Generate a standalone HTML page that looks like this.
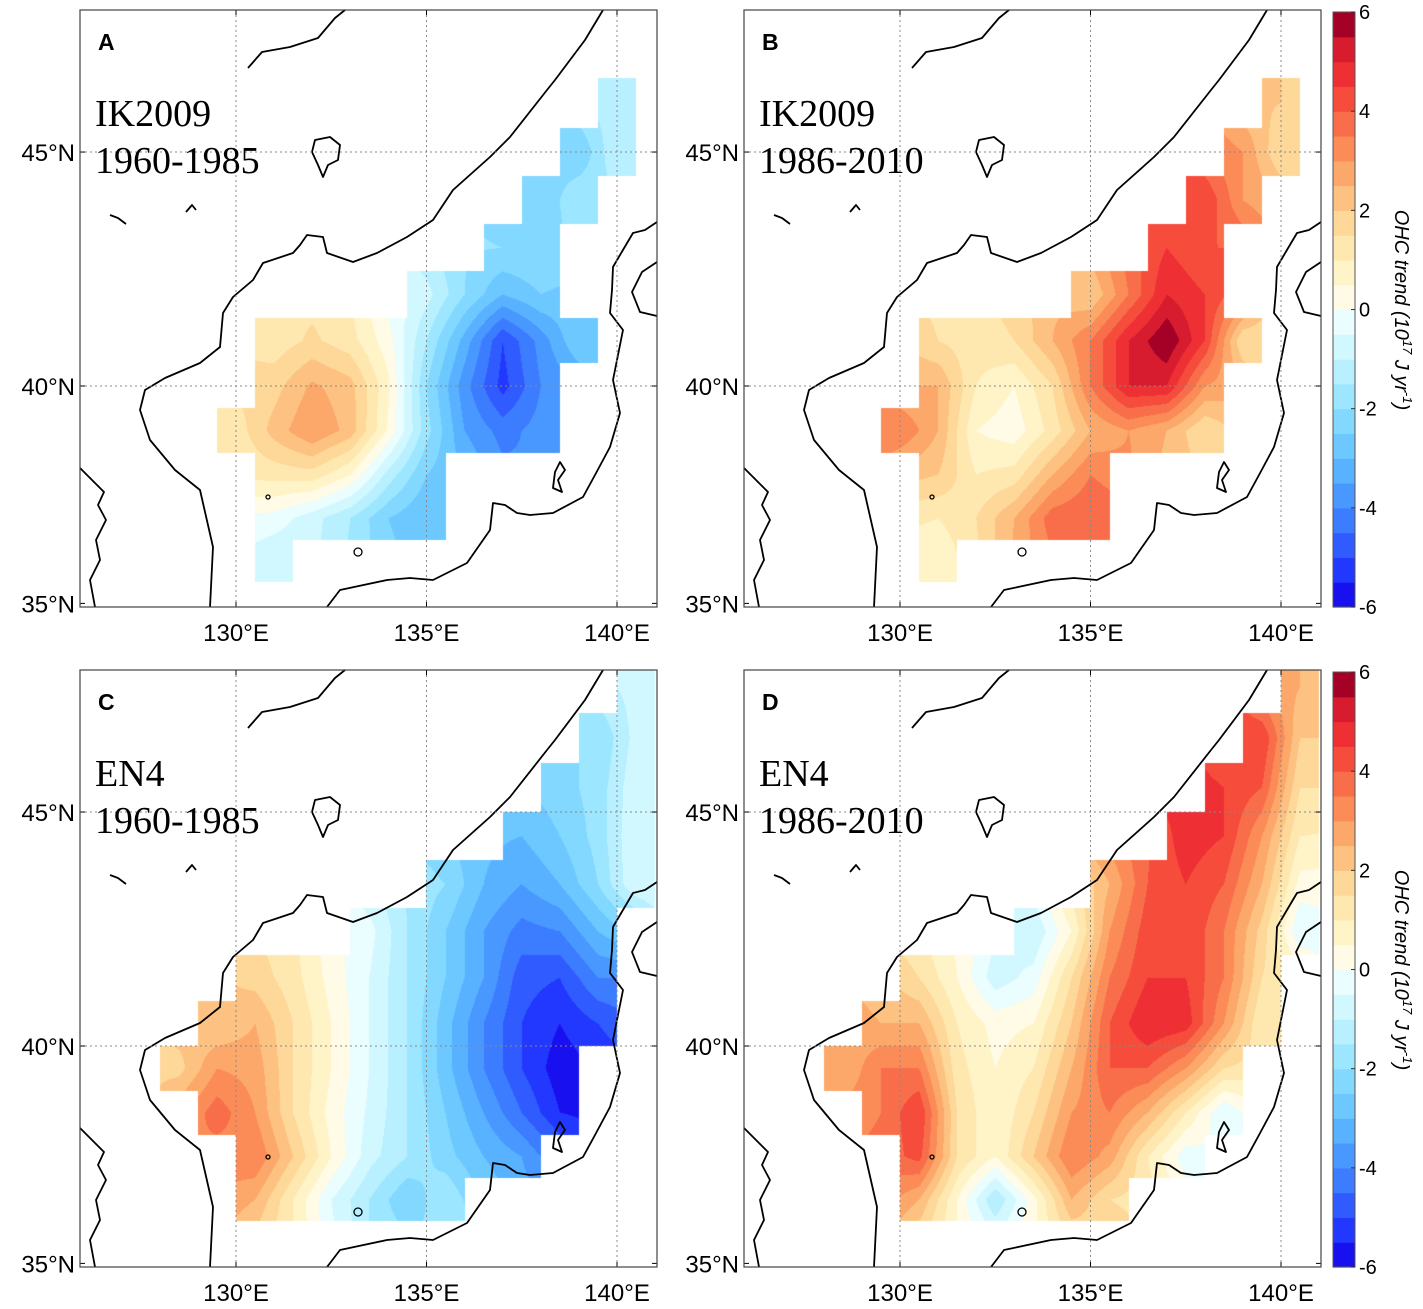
<!DOCTYPE html>
<html><head><meta charset="utf-8">
<style>
html,body{margin:0;padding:0;background:#fff;}
#wrap{position:relative;width:1423px;height:1309px;overflow:hidden;background:#fff;}
canvas,svg{position:absolute;left:0;top:0;}
</style></head>
<body>
<div id="wrap">
<canvas id="cv" width="1423" height="1309"></canvas>
<svg id="sv" width="1423" height="1309" xmlns="http://www.w3.org/2000/svg"></svg>
</div>
<script>
// ---- data ----
const levelColors = ["#1810ee","#2238ff","#305cff","#3c7cff","#4898ff","#58b2ff","#6cc8ff","#82d8ff","#9ce6ff","#b8f0ff","#d2f8ff","#eafdff",
 "#fffbe6","#fff3c8","#fee8b0","#fdd898","#fdc282","#fca86a","#fb8c58","#f96e4a","#f54c3c","#ee3034","#d81c30","#a50026"];
const cbTicks = [6,4,2,0,-2,-4,-6];
const lonTicks = [130,135,140];
const latTicks = [45,40,35];
// rows: [lat, first lon, values...]
const ik1960 = [
 [46,140,[-1.2]],
 [45,139,[-2.5,-1.0]],
 [44,138,[-2.5,-1.5]],
 [43,137,[-2.0,-2.0]],
 [42,135,[-0.8,-2.0,-3.0,-2.5]],
 [41,131,[1.2,1.6,1.2,0.2,-1.5,-3.2,-5.0,-3.8,-2.5]],
 [40,131,[1.8,2.6,2.2,0.6,-2.0,-3.8,-5.2,-4.0]],
 [39,130,[1.2,2.2,3.0,2.3,0.4,-1.8,-3.5,-4.2,-3.8]],
 [38,131,[1.2,1.3,0.5,-1.2,-2.5]],
 [37,131,[-0.2,-0.8,-1.5,-2.5,-3.0]],
 [36,131,[-1.0]]
];
const ik1986 = [
 [46,140,[2.0]],
 [45,139,[3.0,1.5]],
 [44,138,[4.5,3.0]],
 [43,137,[4.5,4.0]],
 [42,135,[2.0,3.5,5.0,4.5]],
 [41,131,[1.5,1.2,1.5,2.5,3.5,5.0,6.0,4.5,1.5]],
 [40,131,[2.5,1.0,0.5,1.5,3.5,5.0,5.0,3.0]],
 [39,130,[3.5,2.5,0.5,0.2,1.2,2.5,3.0,2.5,1.5]],
 [38,131,[2.0,1.0,1.2,2.5,3.5]],
 [37,131,[1.0,1.5,2.5,3.8,4.0]],
 [36,131,[0.5]]
];
const en1960 = [
 [47.5,140.5,[-0.8]],
 [46.5,139.5,[-2.0,-0.8]],
 [45.5,138.5,[-2.2,-1.8,-0.6]],
 [44.5,137.5,[-3.0,-2.5,-1.8,-0.5]],
 [43.5,135.5,[-2.0,-3.0,-3.5,-3.0,-2.0,-0.5]],
 [42.5,133.5,[-0.3,-1.5,-2.5,-3.5,-4.2,-4.0,-3.0]],
 [41.5,130.5,[1.8,1.2,0.3,-0.5,-1.5,-2.5,-3.5,-4.8,-5.0,-4.0]],
 [40.5,129.5,[2.0,2.5,1.5,0.5,-0.5,-1.5,-2.8,-4.0,-5.0,-5.5,-5.0]],
 [39.5,128.5,[1.8,3.0,2.8,1.5,0.5,-0.5,-1.5,-2.8,-4.0,-5.0,-5.8]],
 [38.5,129.5,[3.8,3.0,1.5,0.3,-0.6,-1.5,-2.5,-3.5,-4.5,-5.5]],
 [37.5,130.5,[3.5,2.0,0.5,-0.8,-1.5,-2.3,-3.0,-3.5]],
 [36.5,130.5,[2.5,1.0,-0.5,-1.5,-2.5,-1.5]]
];
const en1986 = [
 [47.5,140.5,[2.5]],
 [46.5,139.5,[4.5,2.0]],
 [45.5,138.5,[4.5,4.0,1.5]],
 [44.5,137.5,[4.8,4.5,3.0,1.0]],
 [43.5,135.5,[2.5,4.0,4.5,4.0,2.5,0.3]],
 [42.5,133.5,[-1.0,0.5,3.0,4.3,4.5,3.5,1.8,-0.5]],
 [41.5,130.5,[1.5,0.5,-0.8,-0.3,1.5,3.5,4.5,4.5,3.5,1.5]],
 [40.5,129.5,[2.5,2.5,1.0,0.3,0.5,2.0,4.0,5.0,4.8,3.0,1.0]],
 [39.5,128.5,[2.5,3.5,3.5,1.2,0.5,1.0,2.5,4.0,4.0,3.0,1.5]],
 [38.5,129.5,[3.5,4.5,1.5,0.5,1.5,3.0,3.5,2.5,1.0,-0.5]],
 [37.5,130.5,[4.2,1.5,0.5,2.0,3.5,2.8,1.0,-0.3]],
 [36.5,130.5,[2.5,0.5,-1.5,0.3,2.5,1.5]]
];

// ---- geometry ----
const S = 1975;
function merc(lat){return Math.log(Math.tan(Math.PI/4+lat*Math.PI/360));}
const M40 = merc(40);
function yOfLat(lat){return 386 - S*(merc(lat)-M40);}
function latOfY(y){const m=M40+(386-y)/S;return (2*Math.atan(Math.exp(m))-Math.PI/2)*180/Math.PI;}
function xOfLon(lon){return 236 + (lon-130)*38.1;}
function lonOfX(x){return 130 + (x-236)/38.1;}
const FX0=80, FX1=657, FY0=10, FY1=607;

const panels = [
 {id:"a", letter:"A", l1:"IK2009", l2:"1960-1985", rows:ik1960, off:0, ox:0, oy:0},
 {id:"b", letter:"B", l1:"IK2009", l2:"1986-2010", rows:ik1986, off:0, ox:664, oy:0},
 {id:"c", letter:"C", l1:"EN4", l2:"1960-1985", rows:en1960, off:0.5, ox:0, oy:660},
 {id:"d", letter:"D", l1:"EN4", l2:"1986-2010", rows:en1986, off:0.5, ox:664, oy:660}
];

function key(a,b){return a.toFixed(1)+"_"+b.toFixed(1);}
const ctx = document.getElementById("cv").getContext("2d");
const rgb = levelColors.map(h=>[parseInt(h.substr(1,2),16),parseInt(h.substr(3,2),16),parseInt(h.substr(5,2),16)]);

panels.forEach(p=>{
  const data = new Map();
  p.rows.forEach(r=>{r[2].forEach((v,i)=>data.set(key(r[0],r[1]+i),v));});
  const ext = new Map(data);
  data.forEach((v,k)=>{
    const [la,lo]=k.split("_").map(Number);
    for(let dj=-1;dj<=1;dj++)for(let di=-1;di<=1;di++){
      const k2=key(la+dj,lo+di);
      if(data.has(k2)||ext.has(k2))continue;
      let s=0,n=0;
      for(let a=-1;a<=1;a++)for(let b=-1;b<=1;b++){const k3=key(la+dj+a,lo+di+b);if(data.has(k3)){s+=data.get(k3);n++;}}
      ext.set(k2,s/n);
    }
  });
  const W=FX1-FX0, H=FY1-FY0;
  const img = ctx.createImageData(W,H);
  const off=p.off;
  for(let py=0;py<H;py++){
    const lat=latOfY(FY0+py+0.5);
    const cLat=Math.round(lat-off)+off;
    const j0=Math.floor(lat-off)+off, fy=lat-j0;
    for(let px=0;px<W;px++){
      const lon=lonOfX(FX0+px+0.5);
      const cLon=Math.round(lon-off)+off;
      if(!data.has(key(cLat,cLon)))continue;
      const cv=data.get(key(cLat,cLon));
      const i0=Math.floor(lon-off)+off, fx=lon-i0;
      const g=(a,b)=>{const k=key(a,b);return ext.has(k)?ext.get(k):cv;};
      const v=(1-fx)*(1-fy)*g(j0,i0)+fx*(1-fy)*g(j0,i0+1)+(1-fx)*fy*g(j0+1,i0)+fx*fy*g(j0+1,i0+1);
      let li=Math.floor((v+6)/0.5); if(li<0)li=0; if(li>23)li=23;
      const c=rgb[li], o=(py*W+px)*4;
      img.data[o]=c[0];img.data[o+1]=c[1];img.data[o+2]=c[2];img.data[o+3]=255;
    }
  }
  ctx.putImageData(img,FX0+p.ox,FY0+p.oy);
});

// ---- SVG overlay ----
const NS="http://www.w3.org/2000/svg";
const sv=document.getElementById("sv");
function el(tag,attrs,parent){const e=document.createElementNS(NS,tag);for(const k in attrs)e.setAttribute(k,attrs[k]);(parent||sv).appendChild(e);return e;}

const coastPaths = [
 "M603,10 L585,40 L555,80 L547,90 L510,137 L490,157 L453,190 L433,220 L407,237 L377,253 L353,262 L327,253 L323,237 L307,235 L300,245 L293,253 L263,263 L253,280 L233,297 L223,313 L220,347 L200,363 L165,378 L145,390 L140,410 L150,440 L175,470 L200,490 L213,547 L210,607",
 "M248,68 L262,52 L290,47 L318,38 L335,18 L345,10",
 "M80,468 L92,480 L104,492 L98,505 L106,520 L96,540 L100,560 L90,580 L95,607",
 "M315,140 L330,137 L340,145 L338,160 L328,165 L323,177 L318,165 L312,152 Z",
 "M657,222 L645,230 L633,233 L620,255 L613,267 L612,290 L610,313 L623,330 L618,355 L613,380 L620,413 L610,447 L595,475 L583,497 L553,513 L530,515 L517,513 L505,505 L493,503 L490,530 L467,563 L433,580 L410,578 L387,580 L340,590 L327,607",
 "M657,262 L642,272 L632,292 L640,312 L657,316",
 "M560,462 L565,470 L558,480 L562,492 L553,488 L555,472 Z",
 "M110,215 L118,218 L126,224 M186,212 L192,205 L196,210"
];

panels.forEach(p=>{
  const g=el("g",{transform:`translate(${p.ox},${p.oy})`});
  
  
  const cg=el("g",{fill:"none",stroke:"#000","stroke-width":"1.8","stroke-linejoin":"round"},g);
  
  
  coastPaths.forEach(d=>el("path",{d:d},cg));
  el("circle",{cx:358,cy:552,r:4,fill:"none",stroke:"#000","stroke-width":"1.3"},cg);
  el("circle",{cx:268,cy:497,r:2,fill:"none",stroke:"#000","stroke-width":"1.3"},cg);
  lonTicks.forEach(lon=>{
    const x=xOfLon(lon);
    const gl=el("line",{x1:x,y1:FY0,x2:x,y2:FY1,stroke:"#888","stroke-width":"1","stroke-dasharray":"2,3"},g);
    
    
    el("line",{x1:x,y1:FY0,x2:x,y2:FY0+5,stroke:"#000"},g);
    el("line",{x1:x,y1:FY1,x2:x,y2:FY1-5,stroke:"#000"},g);
    const t=el("text",{x:x,y:FY1+34,"text-anchor":"middle","font-family":"Liberation Sans, Arial, sans-serif","font-size":"24"},g);
    t.textContent=lon+"°E";
    
    
  });
  latTicks.forEach(lat=>{
    const y=yOfLat(lat);
    if(lat>35){
      const gl=el("line",{x1:FX0,y1:y,x2:FX1,y2:y,stroke:"#888","stroke-width":"1","stroke-dasharray":"2,3"},g);
      
      
    }
    el("line",{x1:FX0,y1:y,x2:FX0+5,y2:y,stroke:"#000"},g);
    el("line",{x1:FX1,y1:y,x2:FX1-5,y2:y,stroke:"#000"},g);
    const t=el("text",{x:FX0-5,y:y+9,"text-anchor":"end","font-family":"Liberation Sans, Arial, sans-serif","font-size":"24"},g);
    t.textContent=lat+"°N";
    
    
  });
  const fr=el("rect",{x:FX0,y:FY0,width:FX1-FX0,height:FY1-FY0,fill:"none",stroke:"#444","stroke-width":"1.2"},g);
  
  
  const L=el("text",{x:98,y:50,"font-family":"Liberation Sans, Arial, sans-serif","font-size":"23","font-weight":"bold"},g);
  L.textContent=p.letter;
  
  
  const t1=el("text",{x:95,y:126,"font-family":"Liberation Serif, Times New Roman, serif","font-size":"38"},g);
  t1.textContent=p.l1;
  
  
  const t2=el("text",{x:95,y:173,"font-family":"Liberation Serif, Times New Roman, serif","font-size":"38"},g);
  t2.textContent=p.l2;
  
  
});

// ---- colorbars ----
[0,660].forEach((oy,ci)=>{
  const g=el("g",{transform:`translate(0,${oy})`});
  
  
  const top=12, bot=607, x0=1333, w=22;
  const h=(bot-top)/levelColors.length;
  levelColors.forEach((c,i)=>{
    const r=el("rect",{x:x0,y:bot-(i+1)*h,width:w,height:h+0.6,fill:c},g);
    
    
  });
  el("rect",{x:x0,y:top,width:w,height:bot-top,fill:"none",stroke:"#555","stroke-width":"1"},g);
  cbTicks.forEach(v=>{
    const y=bot-(v+6)/12*(bot-top);
    el("line",{x1:x0+w-4,y1:y,x2:x0+w,y2:y,stroke:"#333"},g);
    const t=el("text",{x:1359,y:y+7,"font-family":"Liberation Sans, Arial, sans-serif","font-size":"20"},g);
    t.textContent=String(v);
    
    
  });
  const tt=el("text",{transform:"translate(1395,310) rotate(90)","text-anchor":"middle","font-family":"Liberation Sans, Arial, sans-serif","font-size":"20","font-style":"italic"},g);
  
  
  tt.innerHTML='OHC trend (10<tspan dy="-8" font-size="13">17</tspan><tspan dy="8"> J yr</tspan><tspan dy="-8" font-size="13">-1</tspan><tspan dy="8">)</tspan>';
});
</script>
</body></html>
